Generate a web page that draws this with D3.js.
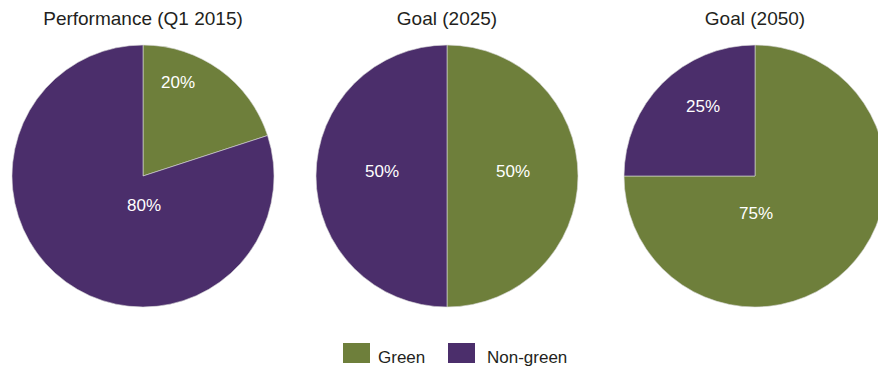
<!DOCTYPE html>
<html>
<head>
<meta charset="utf-8">
<script src="https://cdn.jsdelivr.net/npm/d3@7"></script>
<style>
  html, body { margin: 0; padding: 0; background: #fff; overflow: hidden; }
  svg { display: block; font-family: "Liberation Sans", Arial, Helvetica, sans-serif; }
</style>
</head>
<body>
<svg id="chart" width="878" height="368"></svg>
<script>
// Share of green vs non-green, per period
const titles = ["Performance (Q1 2015)", "Goal (2025)", "Goal (2050)"];
const categories = ["Green", "Non-green"];
const greenShare = [20, 50, 75];
const nonGreenShare = [80, 50, 25];

const colors = { "Green": "#6e7f3b", "Non-green": "#4b2e6b" };

// Layout
const W = 878, H = 368;
const centersX = [143, 447, 755];
const centerY = 176;
const radius = 131;
// Label offsets from each pie centre (dx, dy), per category
const labelOffsets = [
  { "Green": [35, -94], "Non-green": [1, 29] },
  { "Green": [66, -5], "Non-green": [-65, -5] },
  { "Green": [1, 37], "Non-green": [-52, -70] }
];

const svg = d3.select("#chart");

const pie = d3.pie()
  .sort(null)
  .value(d => d.value);

const arc = d3.arc().innerRadius(0).outerRadius(radius);

titles.forEach((title, i) => {
  const data = [
    { cat: categories[0], value: greenShare[i] },
    { cat: categories[1], value: nonGreenShare[i] }
  ];
  const g = svg.append("g").attr("transform", `translate(${centersX[i]},${centerY})`);

  g.selectAll("path")
    .data(pie(data))
    .join("path")
    .attr("d", arc)
    .attr("fill", d => colors[d.data.cat])
    .attr("stroke", "#d8d8d8")
    .attr("stroke-width", 0.6);

  g.selectAll("text.val")
    .data(pie(data))
    .join("text")
    .attr("class", "val")
    .attr("x", d => labelOffsets[i][d.data.cat][0])
    .attr("y", d => labelOffsets[i][d.data.cat][1])
    .attr("dy", "0.35em")
    .attr("text-anchor", "middle")
    .attr("fill", "#ffffff")
    .attr("font-size", 17)
    .text(d => d.data.value + "%");

  svg.append("text")
    .attr("x", centersX[i])
    .attr("y", 25)
    .attr("text-anchor", "middle")
    .attr("fill", "#231f20")
    .attr("font-size", 19)
    .text(title);
});

// Legend
const legendX = [343, 448];
const legend = svg.append("g");
categories.forEach((c, i) => {
  legend.append("rect")
    .attr("x", legendX[i]).attr("y", 343)
    .attr("width", 27).attr("height", 20)
    .attr("fill", colors[c]);
  legend.append("text")
    .attr("x", legendX[i] + 35 + (i === 1 ? 4 : 0))
    .attr("y", 363)
    .attr("fill", "#231f20")
    .attr("font-size", 17)
    .text(c);
});
</script>
</body>
</html>
